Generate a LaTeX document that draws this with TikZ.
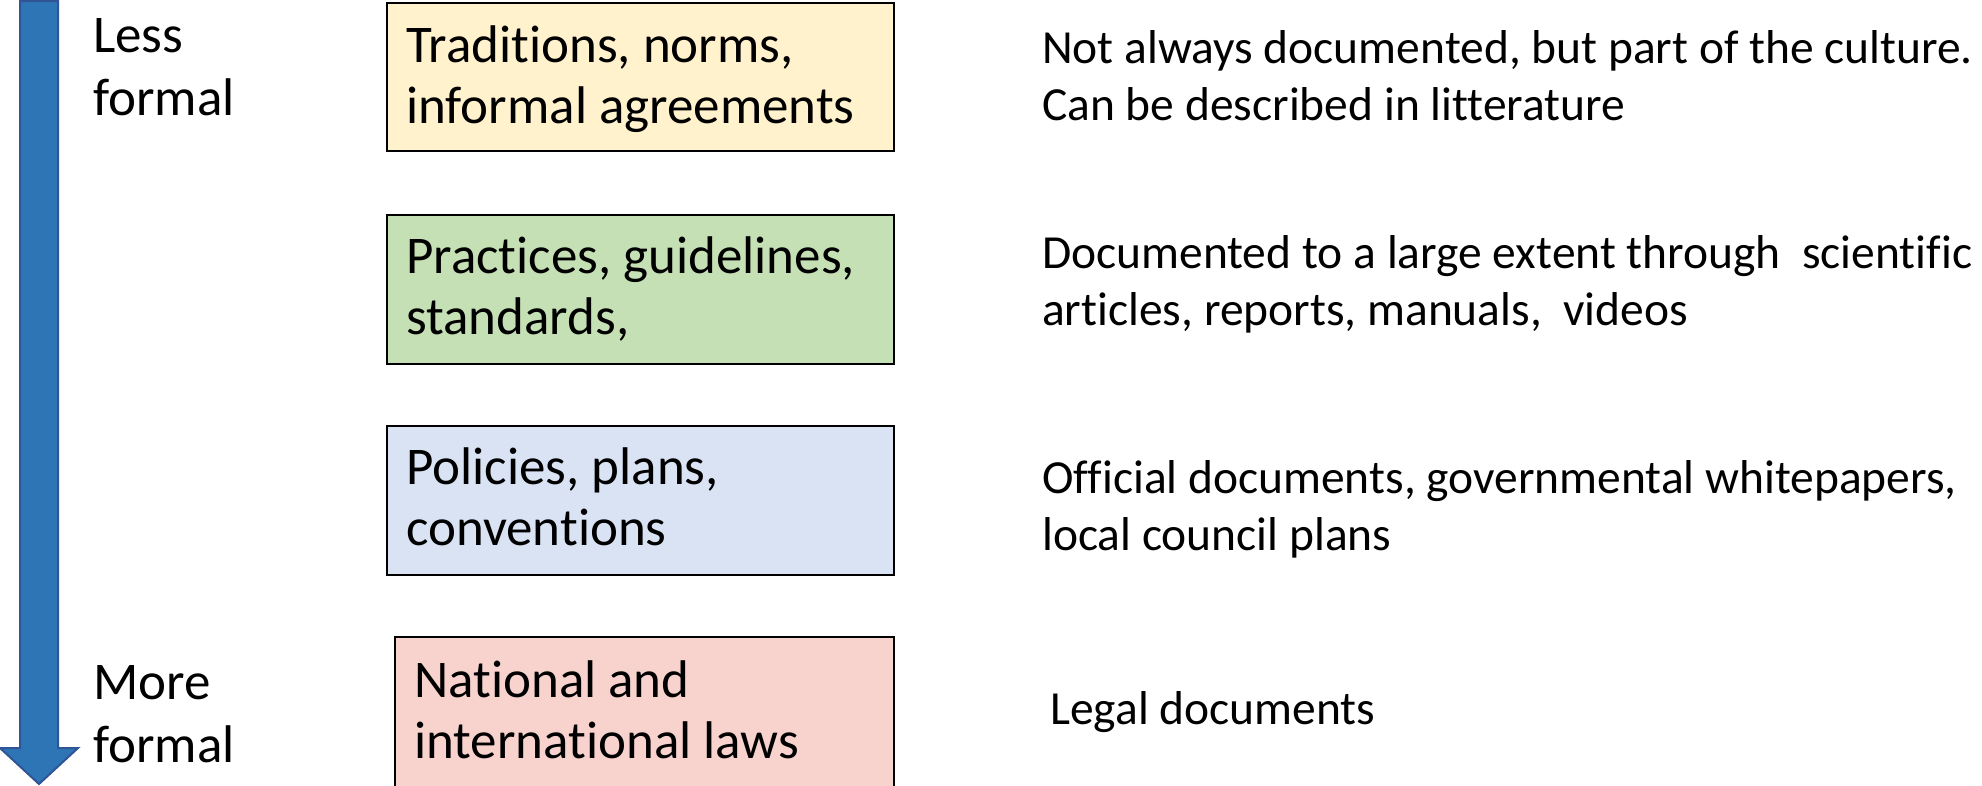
\documentclass[tikz,border=0pt]{standalone}
\usepackage{fontspec}
\setmainfont{Carlito}[Ligatures={NoCommon}]
\definecolor{arrowfill}{HTML}{2E75B6}
\definecolor{arrowline}{HTML}{2F5597}
\definecolor{tradfill}{HTML}{FFF2CC}
\definecolor{pracfill}{HTML}{C5E0B4}
\definecolor{polfill}{HTML}{DAE3F3}
\definecolor{lawfill}{HTML}{F8D3CE}
\tikzset{
  levelbox/.style={draw=black, line width=2pt, rectangle, inner sep=0pt, anchor=north west},
  % multi-line nodes: the base anchor sits on the last line
  boxtext/.style={anchor=base west, inner sep=0pt, align=left,
    font=\fontsize{53}{61}\selectfont},
  sidetext/.style={anchor=base west, inner sep=0pt, align=left,
    font=\fontsize{53}{63}\selectfont},
  desctext/.style={anchor=base west, inner sep=0pt, align=left,
    font=\fontsize{47.5}{57}\selectfont},
}
\begin{document}
\begin{tikzpicture}[x=1pt, y=-1pt]
\useasboundingbox (0,0) rectangle (1982,785);
\clip (0,0) rectangle (1982,785);
\fill[white] (0,0) rectangle (1982,785);

% formality arrow
\draw[arrowline, fill=arrowfill, line width=2pt, line join=miter]
  (20,1) -- (58,1) -- (58,748) -- (78,748) -- (39,784) -- (0,748) -- (20,748) -- cycle;
\node[sidetext] (less) at (93,115) {Less\\formal};
\node[sidetext] (more) at (93,762) {More\\formal};

% levels
\node[levelbox, fill=tradfill, minimum width=507pt, minimum height=148pt] (trad) at (385.5,2) {};
\node[levelbox, fill=pracfill, minimum width=507pt, minimum height=149pt] (prac) at (385.5,214) {};
\node[levelbox, fill=polfill,  minimum width=507pt, minimum height=149pt] (pol)  at (385.5,425) {};
\node[levelbox, fill=lawfill,  minimum width=499pt, minimum height=160pt] (law)  at (393.5,636) {};

\node[boxtext] (tradtxt) at (406,123) {Traditions, norms,\\informal agreements};
\node[boxtext] (practxt) at (406,334) {Practices, guidelines,\\standards,};
\node[boxtext] (poltxt)  at (406,545) {Policies, plans,\\conventions};
\node[boxtext] (lawtxt)  at (414,758) {National and\\international laws};

% descriptions
\node[desctext] (traddesc) at (1042,120) {Not always documented, but part of the culture.\\Can be described in litterature};
\node[desctext] (pracdesc) at (1042,325) {Documented to a large extent through\ \ scientific\\articles, reports, manuals,\ \ videos};
\node[desctext] (poldesc)  at (1042,550) {Official documents, governmental whitepapers,\\local council plans};
\node[desctext] (lawdesc)  at (1050,724) {Legal documents};
\end{tikzpicture}
\end{document}
